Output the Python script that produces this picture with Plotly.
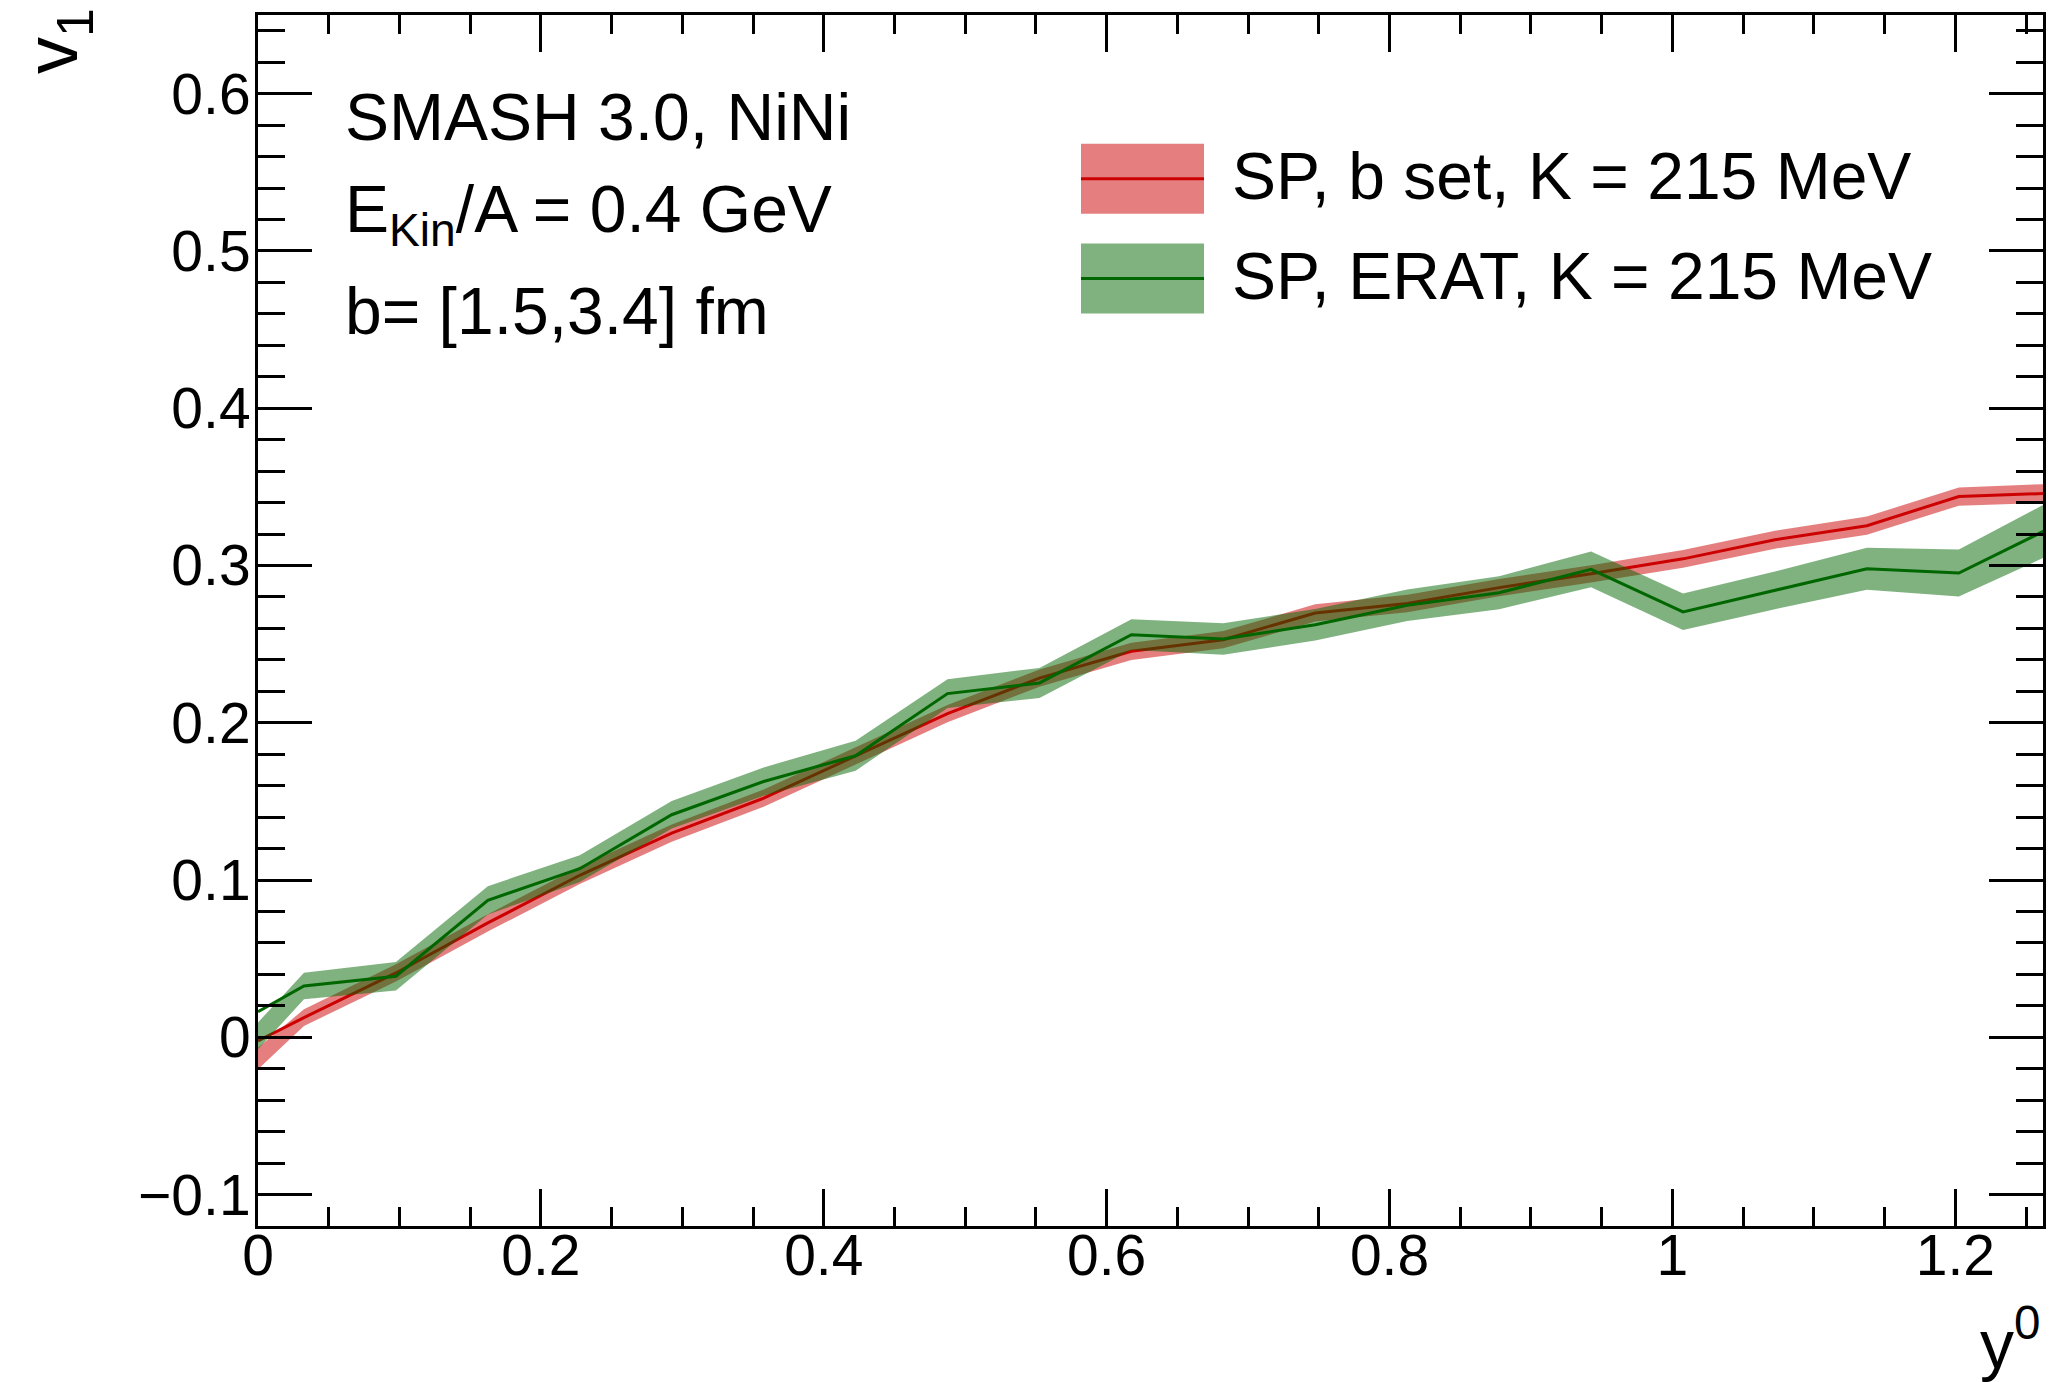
import plotly.graph_objects as go

# Rapidity bins (scaled rapidity y0) and directed flow v1 for the two SMASH setups
Y0 = [0.0, 0.0325, 0.0975, 0.1625, 0.2275, 0.2925, 0.3575, 0.4225, 0.4875, 0.5525,
      0.6175, 0.6825, 0.7475, 0.8125, 0.8775, 0.9425, 1.0075, 1.0725, 1.1375, 1.2025, 1.2675]

V1_BSET = [-0.0023, 0.0125, 0.0409, 0.0727, 0.1030, 0.1298, 0.1520, 0.1788, 0.2058, 0.2284,
           0.2454, 0.2528, 0.2698, 0.2758, 0.2859, 0.2947, 0.3042, 0.3164, 0.3253, 0.3438, 0.3459]
ERR_BSET = [0.0069, 0.0053, 0.0055, 0.0055, 0.0055, 0.0055, 0.0055, 0.0055, 0.0055, 0.0055,
            0.0055, 0.0055, 0.0055, 0.0055, 0.0055, 0.0055, 0.0056, 0.0057, 0.0058, 0.0058, 0.0060]
BSET_BAND_MID0 = -0.0135   # band centre at y0 = 0

V1_ERAT = [0.0163, 0.0326, 0.0388, 0.0871, 0.1072, 0.1415, 0.1626, 0.1790, 0.2185, 0.2253,
           0.2560, 0.2532, 0.2623, 0.2747, 0.2827, 0.2975, 0.2705, 0.2842, 0.2979, 0.2952, 0.3240]
ERR_ERAT = [0.0085, 0.0085, 0.0090, 0.0090, 0.0085, 0.0087, 0.0090, 0.0095, 0.0092, 0.0095,
            0.0098, 0.0100, 0.0100, 0.0100, 0.0105, 0.0113, 0.0116, 0.0120, 0.0134, 0.0150, 0.0170]
ERAT_BAND_MID0 = 0.0009    # band centre at y0 = 0

LABEL_BSET = "SP, b set, K = 215 MeV"
LABEL_ERAT = "SP, ERAT, K = 215 MeV"
INFO_LINES = ["SMASH 3.0, NiNi", "E<sub>Kin</sub>/A = 0.4 GeV", "b= [1.5,3.4] fm"]

X_RANGE = [0.0, 1.262]
Y_RANGE = [-0.12, 0.65]

RED_LINE = "rgb(204,0,0)"
RED_FILL = "rgba(204,0,0,0.5)"
GREEN_LINE = "rgb(0,102,0)"
GREEN_FILL = "rgba(0,102,0,0.5)"
FONT = "Liberation Sans"

W, H = 2069, 1382
L, R, T, B = 258, 26, 13, 156
PW, PH = W - L - R, H - T - B


def px_x(p):
    return (p - L) / PW


def px_y(p):
    return 1 - (p - T) / PH


def band(x, mid, err, mid0):
    centre = [mid0] + list(mid[1:])
    hi = [c + e for c, e in zip(centre, err)]
    lo = [c - e for c, e in zip(centre, err)]
    return list(x) + list(x[::-1]), hi + lo[::-1]


fig = go.Figure()

bx, by = band(Y0, V1_BSET, ERR_BSET, BSET_BAND_MID0)
fig.add_trace(go.Scatter(x=bx, y=by, fill="toself", fillcolor=RED_FILL,
                         line=dict(width=0), mode="lines", hoverinfo="skip", showlegend=False))
fig.add_trace(go.Scatter(x=Y0, y=V1_BSET, mode="lines", line=dict(color=RED_LINE, width=3),
                         name=LABEL_BSET, showlegend=False))

gx, gy = band(Y0, V1_ERAT, ERR_ERAT, ERAT_BAND_MID0)
fig.add_trace(go.Scatter(x=gx, y=gy, fill="toself", fillcolor=GREEN_FILL,
                         line=dict(width=0), mode="lines", hoverinfo="skip", showlegend=False))
fig.add_trace(go.Scatter(x=Y0, y=V1_ERAT, mode="lines", line=dict(color=GREEN_LINE, width=3),
                         name=LABEL_ERAT, showlegend=False))

axis_common = dict(showline=True, linecolor="black", linewidth=3, mirror="ticks",
                   ticks="inside", tickcolor="black", tickwidth=3, showgrid=False,
                   zeroline=False, tickfont=dict(family=FONT, size=57, color="black"))

fig.update_xaxes(range=X_RANGE, tick0=0, dtick=0.2, ticklen=37, ticklabelstandoff=-22,
                 minor=dict(dtick=0.05, ticklen=19, ticks="inside", tickwidth=3, tickcolor="black"),
                 **axis_common)
fig.update_yaxes(range=Y_RANGE, tick0=0, dtick=0.1, ticklen=54, ticklabelstandoff=-7,
                 minor=dict(dtick=0.02, ticklen=27, ticks="inside", tickwidth=3, tickcolor="black"),
                 **axis_common)

annotations = []
# header text block
for i, txt in enumerate(INFO_LINES):
    annotations.append(dict(text=txt, x=px_x(343), y=px_y(115 + 97 * i), xref="paper", yref="paper",
                            xanchor="left", yanchor="middle", showarrow=False,
                            font=dict(family=FONT, size=66, color="black")))

# legend
legend_rows = [(LABEL_BSET, RED_FILL, RED_LINE, 177), (LABEL_ERAT, GREEN_FILL, GREEN_LINE, 277)]
shapes = []
for label, fill, line, yc in legend_rows:
    shapes.append(dict(type="rect", xref="paper", yref="paper",
                       x0=px_x(1081), x1=px_x(1204), y0=px_y(yc - 35), y1=px_y(yc + 35),
                       fillcolor=fill, line=dict(width=0), layer="above"))
    shapes.append(dict(type="line", xref="paper", yref="paper",
                       x0=px_x(1081), x1=px_x(1204), y0=px_y(yc), y1=px_y(yc),
                       line=dict(color=line, width=3), layer="above"))
    annotations.append(dict(text=label, x=px_x(1230), y=px_y(yc - 3), xref="paper", yref="paper",
                            xanchor="left", yanchor="middle", showarrow=False,
                            font=dict(family=FONT, size=66, color="black")))

# axis titles
annotations.append(dict(text="v<sub>1</sub>", x=px_x(8), y=px_y(4), xref="paper", yref="paper",
                        xanchor="left", yanchor="top", textangle=-90, showarrow=False,
                        font=dict(family=FONT, size=74, color="black")))
annotations.append(dict(text="y<sup>0</sup>", x=px_x(2042), y=px_y(1384), xref="paper", yref="paper",
                        xanchor="right", yanchor="bottom", showarrow=False,
                        font=dict(family=FONT, size=68, color="black")))

fig.update_layout(width=W, height=H, margin=dict(l=L, r=R, t=T, b=B, pad=0),
                  paper_bgcolor="white", plot_bgcolor="white",
                  showlegend=False, annotations=annotations, shapes=shapes,
                  font=dict(family=FONT, color="black"))

fig.write_html("out.html")
